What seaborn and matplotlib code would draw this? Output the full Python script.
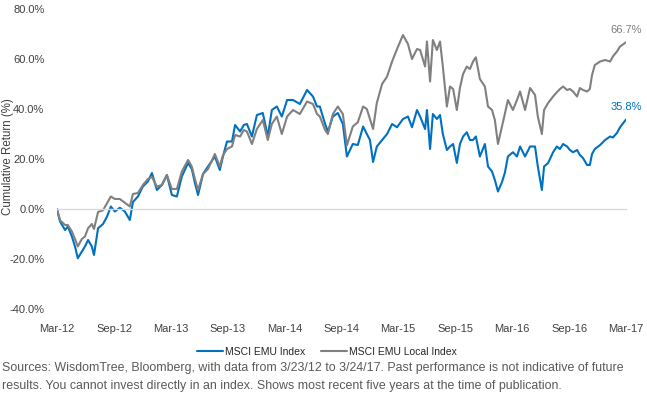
import pandas as pd
import seaborn as sns
import matplotlib.pyplot as plt
import matplotlib.dates as mdates

# valores (retorno acumulado en %)
fechas = [
    "2012-03-23", "2012-04-02", "2012-04-18", "2012-04-27", "2012-05-10", "2012-05-20",
    "2012-05-29", "2012-06-11", "2012-06-21", "2012-07-01", "2012-07-13", "2012-07-20",
    "2012-08-02", "2012-08-18", "2012-08-31", "2012-09-12", "2012-09-25", "2012-10-11",
    "2012-10-27", "2012-11-12", "2012-11-22", "2012-12-08", "2012-12-24", "2013-01-09",
    "2013-01-22", "2013-02-07", "2013-02-23", "2013-03-11", "2013-03-27", "2013-04-12",
    "2013-04-28", "2013-05-18", "2013-05-30", "2013-06-09", "2013-06-19", "2013-07-05",
    "2013-07-21", "2013-08-12", "2013-08-28", "2013-09-07", "2013-09-20", "2013-10-06",
    "2013-10-16", "2013-11-01", "2013-11-13", "2013-11-23", "2013-12-09", "2013-12-25",
    "2014-01-13", "2014-01-29", "2014-02-11", "2014-02-27", "2014-03-15", "2014-04-01",
    "2014-04-20", "2014-05-12", "2014-06-04", "2014-06-23", "2014-07-06", "2014-07-15",
    "2014-08-01", "2014-08-10", "2014-08-26", "2014-09-11", "2014-09-27", "2014-10-10",
    "2014-10-29", "2014-11-14", "2014-12-01", "2014-12-13", "2014-12-23", "2015-01-02",
    "2015-01-14", "2015-01-31", "2015-02-16", "2015-03-04", "2015-03-20", "2015-04-08",
    "2015-04-24", "2015-05-07", "2015-05-23", "2015-06-02", "2015-06-18", "2015-06-24",
    "2015-07-04", "2015-07-13", "2015-07-26", "2015-08-05", "2015-08-14", "2015-08-27",
    "2015-09-06", "2015-09-16", "2015-09-28", "2015-10-08", "2015-10-18", "2015-10-30",
    "2015-11-09", "2015-11-19", "2015-11-28", "2015-12-11", "2015-12-27", "2016-01-06",
    "2016-01-19", "2016-01-28", "2016-02-07", "2016-02-20", "2016-02-29", "2016-03-10",
    "2016-03-26", "2016-04-08", "2016-04-18", "2016-05-04", "2016-05-20", "2016-06-05",
    "2016-06-14", "2016-06-27", "2016-07-04", "2016-07-17", "2016-08-02", "2016-08-14",
    "2016-08-24", "2016-09-03", "2016-09-16", "2016-09-25", "2016-10-05", "2016-10-18",
    "2016-10-27", "2016-11-06", "2016-11-19", "2016-11-28", "2016-12-05", "2016-12-14",
    "2016-12-31", "2017-01-16", "2017-02-01", "2017-02-10", "2017-02-23", "2017-03-05",
    "2017-03-24",
]

emu = [
    0.0, -5.0, -8.4, -7.0, -11.0, -15.0,
    -19.7, -17.0, -15.0, -12.4, -15.0, -18.4,
    -7.7, -6.0, -3.0, 1.0, -1.0, 0.5,
    -1.0, -4.4, 2.8, 5.0, 9.0, 11.0,
    14.4, 7.6, 9.6, 13.6, 5.6, 5.0,
    13.0, 18.4, 16.0, 10.4, 5.6, 14.0,
    17.0, 21.0, 15.6, 21.0, 27.0, 27.0,
    33.6, 31.0, 33.6, 34.0, 29.0, 37.6,
    38.4, 29.0, 39.6, 41.0, 37.0, 43.6,
    43.6, 42.0, 47.6, 45.0, 41.0, 41.0,
    34.0, 31.0, 37.0, 38.4, 34.0, 21.0,
    26.0, 25.6, 33.0, 30.0, 27.6, 18.8,
    25.0, 27.6, 30.0, 34.0, 32.7, 36.0,
    37.0, 32.7, 39.6, 37.0, 32.0, 39.6,
    24.0, 38.0, 36.0, 37.6, 30.0, 23.6,
    25.0, 26.0, 18.4, 26.0, 29.0, 30.7,
    27.6, 27.6, 29.0, 21.0, 26.0, 17.0,
    15.0, 11.6, 7.0, 10.8, 14.4, 21.0,
    22.7, 21.0, 25.0, 21.0, 25.0, 25.0,
    17.0, 7.6, 17.0, 18.4, 22.7, 25.0,
    24.0, 26.0, 25.0, 23.6, 22.7, 23.6,
    21.6, 20.4, 17.6, 17.6, 22.0, 24.0,
    25.6, 27.6, 29.0, 28.6, 30.4, 32.7,
    35.8,
]

emu_local = [
    0.0, -4.5, -6.4, -6.4, -9.0, -12.0,
    -15.0, -12.0, -11.0, -7.7, -6.0, -8.0,
    -1.2, -0.5, 2.4, 5.0, 4.0, 4.0,
    2.5, 1.0, 6.0, 6.4, 9.6, 12.0,
    12.8, 9.0, 9.6, 13.6, 8.0, 8.0,
    15.0, 19.6, 17.0, 12.0, 7.6, 14.0,
    16.0, 22.0, 17.0, 21.5, 24.0, 25.0,
    29.6, 29.0, 31.6, 31.0, 26.0, 32.0,
    35.6, 27.6, 34.0, 37.0, 30.0, 37.0,
    39.6, 38.0, 43.0, 42.0, 38.0, 37.0,
    31.6, 30.0, 38.0, 41.0, 38.0, 25.5,
    33.0, 34.7, 41.0, 40.0, 36.0, 32.0,
    42.4, 50.0, 53.0, 59.0, 64.0, 69.6,
    66.0, 60.0, 64.0, 63.6, 57.0, 67.0,
    51.0, 67.6, 63.6, 67.0, 57.0, 41.0,
    49.0, 48.0, 39.6, 48.5, 54.0, 57.0,
    56.0, 59.0, 60.7, 52.0, 49.0, 41.0,
    39.6, 35.6, 26.0, 33.0, 38.0, 43.6,
    39.6, 43.6, 47.0, 39.6, 48.4, 45.6,
    37.0, 30.0, 39.6, 42.4, 45.0, 46.7,
    48.0, 49.0, 47.6, 48.0, 47.0, 45.0,
    48.4, 47.6, 47.0, 48.0, 53.6, 57.6,
    59.0, 59.6, 59.0, 61.0, 63.0, 65.0,
    66.7,
]

series = ["MSCI EMU Index", "MSCI EMU Local Index"]
colores = {"MSCI EMU Index": "#0070C0", "MSCI EMU Local Index": "#808080"}

df = pd.DataFrame({"Date": pd.to_datetime(fechas), series[0]: emu, series[1]: emu_local})
df_long = df.melt(id_vars="Date", var_name="Series", value_name="Return")

sns.set_style("white")
plt.rcParams["font.family"] = ["Liberation Sans", "DejaVu Sans"]

fig = plt.figure(figsize=(6.47, 3.99), dpi=100)
ax = fig.add_axes([0.088, 0.2256, 0.8795, 0.7518])

sns.lineplot(data=df_long, x="Date", y="Return", hue="Series", hue_order=series,
             palette=colores, linewidth=1.5, legend=False, ax=ax)

inicio = df["Date"].iloc[0]
fin = df["Date"].iloc[-1]
ax.set_xlim(inicio, fin)
ax.set_ylim(-40, 80)
ax.set_xlabel("")
ax.set_ylabel("")

# eje y
ax.set_yticks(range(-40, 81, 20))
ax.yaxis.set_major_formatter(plt.FuncFormatter(lambda v, p: f"{v:.1f}%"))
ax.tick_params(axis="y", length=0, pad=9, labelsize=8, labelcolor="#404040")
for lado in ["left", "right", "top"]:
    ax.spines[lado].set_visible(False)

# linea del cero con marcas
ticks = [inicio + pd.DateOffset(months=6 * i) for i in range(11)]
ax.spines["bottom"].set_position(("data", 0))
ax.spines["bottom"].set_color("#d9d9d9")
ax.spines["bottom"].set_linewidth(1)
ax.set_xticks(ticks)
ax.tick_params(axis="x", direction="out", length=4, color="#d9d9d9", labelbottom=False)

# etiquetas de fecha abajo
sec = ax.secondary_xaxis("bottom")
sec.set_xticks([mdates.date2num(t) for t in ticks])
sec.xaxis.set_major_formatter(mdates.DateFormatter("%b-%y"))
sec.tick_params(length=0, pad=11, labelsize=8, labelcolor="#404040")
sec.spines["bottom"].set_visible(False)

fig.text(0.013, 0.607, "Cumulative Return (%)", rotation=90, ha="center", va="center",
         fontsize=8.3, color="#404040")

# valores finales
ax.annotate(f"{emu_local[-1]:.1f}%", xy=(fin, emu_local[-1]), xytext=(0, 9),
            textcoords="offset points", ha="center", va="center", fontsize=8,
            color="#7f7f7f", annotation_clip=False)
ax.annotate(f"{emu[-1]:.1f}%", xy=(fin, emu[-1]), xytext=(0, 9),
            textcoords="offset points", ha="center", va="center", fontsize=8,
            color="#0070C0", annotation_clip=False)

fig.legend(handles=ax.get_lines()[:2], labels=series, loc="center",
           bbox_to_anchor=(0.505, 0.118), ncol=2, frameon=False, fontsize=7.5,
           handlelength=2.5, columnspacing=1.5, handletextpad=0.2)

fig.text(0.003, 0.078, "Sources: WisdomTree, Bloomberg, with data from 3/23/12 to 3/24/17. "
         "Past performance is not indicative of future", fontsize=8.9, color="#595959", va="center")
fig.text(0.003, 0.033, "results. You cannot invest directly in an index. Shows most recent "
         "five years at the time of publication.", fontsize=8.9, color="#595959", va="center")

plt.savefig("out.png", dpi=100)
